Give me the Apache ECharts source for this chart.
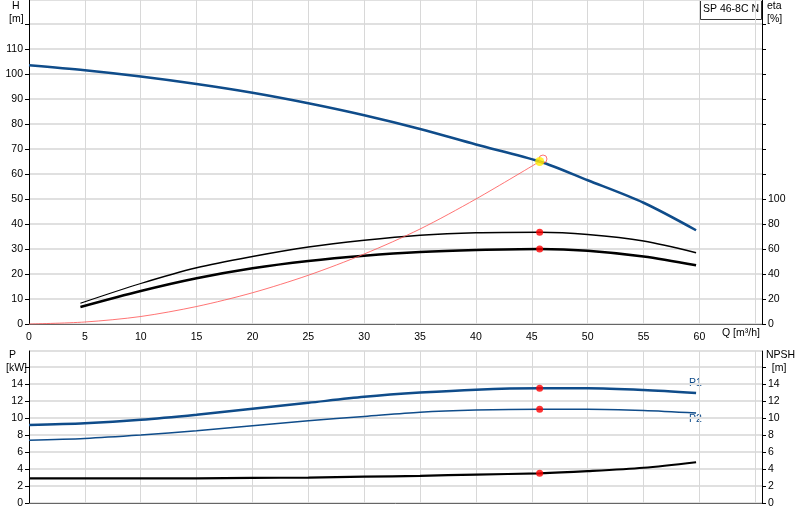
<!DOCTYPE html><html><head><meta charset="utf-8"><script src="https://cdn.jsdelivr.net/npm/echarts@6/dist/echarts.min.js"></script></head><body style="margin:0"><div id="c" style="width:800px;height:520px"></div><script>
const Q=[0,5,10,15,20,25,30,35,40,45.7,50,55,59.7];
const H=[103.5,101.5,99,96,92.5,88.3,83.5,78,71.8,65,57.5,48.5,37.5];
const Qe=[4.6,10,15,20,25,30,35,40,45.7,50,55,59.7];
const etaUp=[16.6,32.4,45,54,61.6,67,71,73,73.4,71.6,66.4,57];
const etaLo=[13.6,26.4,36.6,44.6,50.4,54.6,57.6,59.2,60,58.6,54,47];
const Qs=[0,5,10,15,20,25,30,35,40,45.7];
const Hs=[0,0.8,3,7,12.5,19.5,28,38,50,65];
const P1=[9.2,9.4,9.8,10.4,11.1,11.8,12.5,13.0,13.35,13.5,13.5,13.3,12.95];
const P2=[7.4,7.6,8.0,8.5,9.1,9.7,10.2,10.7,10.95,11.05,11.05,10.9,10.6];
const NPSH=[2.9,2.9,2.9,2.9,2.95,3.0,3.1,3.2,3.35,3.5,3.75,4.15,4.8];
const dutyQ=45.7;
const z=(a,b)=>a.map((v,i)=>[v,b[i]]);
const ch=echarts.init(document.getElementById('c'));
const tf={fontFamily:'Liberation Sans',fontSize:10.5,color:'#000'};
const grid=(t,h)=>({left:29,width:733,top:t,height:h});
const xa=(gi,lab)=>({type:'value',gridIndex:gi,min:0,max:65.6,interval:5,axisLine:{onZero:false,lineStyle:{color:'#666'}},axisTick:{show:false},splitLine:{lineStyle:{color:'#d8d8d8'}},axisLabel:lab?{...tf,formatter:v=>v<=60?v:'',showMaxLabel:false}:{show:false}});
const ya=(gi,max,intv,pos,limit,tickAll)=>({type:'value',gridIndex:gi,min:0,max:max,interval:intv,position:pos,axisLine:{show:true,lineStyle:{color:'#000'}},axisTick:{show:true,length:4,lineStyle:{color:'#000'},interval:tickAll?'auto':((i,v)=>v<=limit)},splitLine:{show:pos==='left',lineStyle:{color:'#e0e0e0',width:2}},axisLabel:{...tf,margin:6,formatter:v=>v<=limit?v:'',showMaxLabel:false}});
const L=(name,data,xi,yi,color,w,extra)=>Object.assign({type:'line',name,data,xAxisIndex:xi,yAxisIndex:yi,smooth:0.3,symbol:'none',lineStyle:{color,width:w},silent:true},extra||{});
const dot=(x,y,xi,yi,c,s)=>({type:'scatter',data:[[x,y]],xAxisIndex:xi,yAxisIndex:yi,symbolSize:s||7,itemStyle:{color:c||'#ff0000'},silent:true,z:10});
ch.setOption({animation:false,
grid:[grid(0,324),grid(351,152)],
xAxis:[xa(0,true),xa(1,false)],
yAxis:[ya(0,129.6,10,'left',110,true),ya(0,259.2,20,'right',100,false),ya(1,17.9,2,'left',14,true),ya(1,17.9,2,'right',14,true)],
series:[
L('H',z(Q,H),0,0,'#0f4c8a',2.5),
L('eu',z(Qe,etaUp),0,1,'#000',1.3),
L('el',z(Qe,etaLo),0,1,'#000',2.5),
L('sys',z(Qs,Hs),0,0,'#ff5050',0.8),
{type:'scatter',data:[[46,66]],xAxisIndex:0,yAxisIndex:0,symbolSize:8,itemStyle:{color:'none',borderColor:'#ff5050',borderWidth:1},silent:true,z:9},
dot(dutyQ,65,0,0,'#ffee00',9),
dot(dutyQ,73.4,0,1),dot(dutyQ,60,0,1),
L('P1',z(Q,P1),1,2,'#0f4c8a',2.5),
L('P2',z(Q,P2),1,2,'#0f4c8a',1.5),
L('N',z(Q,NPSH),1,3,'#000',2.2),
dot(dutyQ,13.5,1,2),dot(dutyQ,11.05,1,2),dot(dutyQ,3.5,1,3)
],
graphic:[
{type:'text',left:9,top:0,style:{text:' H\n[m]',...tf,fill:'#000',lineHeight:13}},
{type:'text',left:767,top:0,style:{text:'eta\n[%]',...tf,fill:'#000',lineHeight:13}},
{type:'text',left:6,top:349,style:{text:' P\n[kW]',...tf,fill:'#000',lineHeight:13}},
{type:'text',left:766,top:349,style:{text:'NPSH\n  [m]',...tf,fill:'#000',lineHeight:13}},
{type:'text',left:722,top:328,style:{text:'Q [m³/h]',...tf,fill:'#000'}},
{type:'text',left:689,top:378,style:{text:'P1',...tf,fill:'#0f4c8a'}},
{type:'text',left:689,top:414,style:{text:'P2',...tf,fill:'#0f4c8a'}},
{type:'rect',shape:{x:700.5,y:0.5,width:61,height:19},style:{fill:'#fff',stroke:'#333'}},
{type:'text',left:703,top:4,style:{text:'SP 46-8C N',...tf,fill:'#000'}}
]});
</script></body></html>
